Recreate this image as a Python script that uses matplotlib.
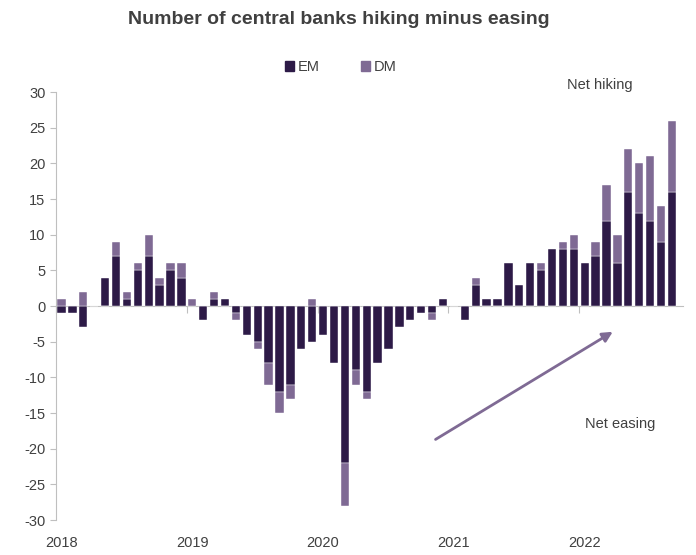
import numpy as np
import matplotlib
matplotlib.use("Agg")
import matplotlib.pyplot as plt
from matplotlib.patches import Patch

plt.rcParams['font.family'] = ['Liberation Sans', 'DejaVu Sans']
plt.rcParams['axes.unicode_minus'] = False

# monthly, Jan 2018 .. Sep 2022
em = [-1, -1, -3, 0, 4, 7, 1, 5, 7, 3, 5, 4,
      0, -2, 1, 1, -1, -4, -5, -8, -12, -11, -6, -5,
      -4, -8, -22, -9, -12, -8, -6, -3, -2, -1, -1, 1,
      0, -2, 3, 1, 1, 6, 3, 6, 5, 8, 8, 8,
      6, 7, 12, 6, 16, 13, 12, 9, 16]
dm = [1, 0, 2, 0, 0, 2, 1, 1, 3, 1, 1, 2,
      1, 0, 1, 0, -1, 0, -1, -3, -3, -2, 0, 1,
      0, 0, -6, -2, -1, 0, 0, 0, 0, 0, -1, 0,
      0, 0, 1, 0, 0, 0, 0, 0, 1, 0, 1, 2,
      0, 2, 5, 4, 6, 7, 9, 5, 10]
years = ["2018", "2019", "2020", "2021", "2022"]

EM_COL = "#2d1a47"
DM_COL = "#7f6a94"
TXT = "#404040"

em = np.array(em)
dm = np.array(dm)
x = np.arange(len(em))
# excel-style stacking: positives and negatives stack separately
dm_bottom = np.where(np.sign(dm) == np.sign(em), em, 0)

fig = plt.figure(figsize=(6.96, 5.55), dpi=100)
ax = fig.add_axes([0.0805, 0.063, 0.9005, 0.771])

ax.bar(x, em, width=0.76, color=EM_COL, edgecolor="white", linewidth=0.3, zorder=2)
ax.bar(x, dm, width=0.76, bottom=dm_bottom, color=DM_COL, edgecolor="white", linewidth=0.3, zorder=2)

ax.set_xlim(-0.5, 57)
ax.set_ylim(-30, 30)
ax.set_yticks(range(-30, 31, 5))
ax.tick_params(axis='y', labelsize=10.5, colors="#bfbfbf", labelcolor=TXT, length=4, width=0.8)

for s in ["top", "right"]:
    ax.spines[s].set_visible(False)
ax.spines["left"].set_color("#bfbfbf")
ax.spines["bottom"].set_position(("data", 0))
ax.spines["bottom"].set_color("#bfbfbf")
ax.spines["bottom"].set_zorder(1)

ax.set_xticks(np.arange(len(years)) * 12 - 0.5)
ax.set_xticklabels([])
ax.tick_params(axis='x', colors="#bfbfbf", length=5, width=0.8)
for i, yr in enumerate(years):
    ax.text(i * 12, -32.3, yr, ha="center", va="top", fontsize=10.5, color=TXT)

ax.text(49.4, 31, "Net hiking", ha="center", va="center", fontsize=10.5, color=TXT)
ax.text(51.3, -16.6, "Net easing", ha="center", va="center", fontsize=10.5, color=TXT)
ax.annotate("", xy=(50.8, -3.4), xytext=(34.1, -18.9),
            arrowprops=dict(arrowstyle="-|>,head_length=0.6,head_width=0.3",
                            color=DM_COL, lw=2))

fig.text(0.487, 0.965, "Number of central banks hiking minus easing",
         ha="center", va="center", fontsize=14, fontweight="bold", color=TXT)

handles = [Patch(color=EM_COL, label="EM"), Patch(color=DM_COL, label="DM")]
fig.legend(handles=handles, loc="center", bbox_to_anchor=(0.49, 0.879), ncol=2,
           frameon=False, fontsize=10.5, handlelength=0.6, handleheight=0.6,
           handletextpad=0.3, columnspacing=2.8, labelcolor=TXT)

fig.savefig("out.png", dpi=100)
